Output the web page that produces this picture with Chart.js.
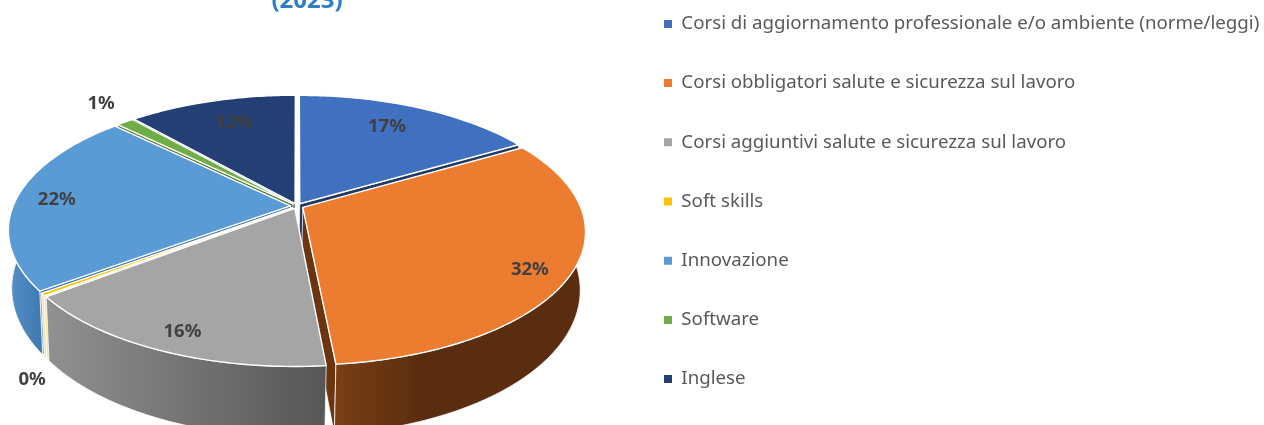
<!DOCTYPE html>
<html><head><meta charset="utf-8">
<style>html,body{margin:0;padding:0;background:#fff;overflow:hidden}#wrap{width:1264px;height:425px;position:relative}</style>
<script src="https://cdn.jsdelivr.net/npm/chart.js@4"></script>
</head><body><div id="wrap"><canvas id="c" width="1264" height="425"></canvas></div>
<script>
const categories = [
  "Corsi di aggiornamento professionale e/o ambiente (norme/leggi)",
  "Corsi obbligatori salute e sicurezza sul lavoro",
  "Corsi aggiuntivi salute e sicurezza sul lavoro",
  "Soft skills",
  "Innovazione",
  "Software",
  "Inglese"
];
const values = [16.6, 31.9, 16.1, 0.3, 22.4, 1.2, 11.5];
const titleText = "(2023)";
const topColors = ["#4270c0", "#ec7c30", "#a5a5a5", "#ffc000", "#5b9bd5", "#70ad47", "#243f75"];
const wallLeft = ["#2a4a85", "#7a3f14", "#919191", "#f6e6b0", "#5590c6", "#4d7a30", "#1b3057"];
const wallRight = ["#2a4a85", "#5a2d10", "#565656", "#f6e6b0", "#3f78ae", "#4d7a30", "#1b3057"];
const wallBend = [1, 0.35, 1, 1, 1, 1, 1];
const cutColors = ["#1f3864", "#6b3510", "#6a6a6a", "#f2e4ae", "#3f78ae", "#4d7a30", "#16284a"];
const explode = [6, 7, 6, 6, 7, 6, 6];
const labelRadial = [0.779, 0.895, 0.9, 1.33, 0.876, 1.24, 0.773];
const labelTurn = [-2, 3.4, -0.6, -17.8, -0.5, 1.9, 1.3];

const view = {x0: 297, y0: 206, a: 277.4, b: 128.7, k: 0.18, lowA: 0.985, lowX: -1, lowB: 140, lowD: 56};
function project(u, v, low) {
  const w = 1 - view.k * v;
  if (low) return [view.x0 + view.lowX + view.lowA * view.a * u / w, view.y0 + view.lowD + view.lowB * v / w];
  return [view.x0 + view.a * u / w, view.y0 + view.b * v / w];
}
function slicePoint(el, ang, r, low) {
  const mid = (el.startAngle + el.endAngle) / 2, d = (el.options.offset || 0) / 300;
  return project(Math.cos(ang) * r + Math.cos(mid) * d, Math.sin(ang) * r + Math.sin(mid) * d, low);
}
function rimPoints(el, low, frontOnly) {
  const pts = [], n = Math.max(2, Math.ceil((el.endAngle - el.startAngle) / 0.015));
  for (let i = 0; i <= n; i++) {
    const ang = el.startAngle + (el.endAngle - el.startAngle) * i / n;
    if (!frontOnly || Math.sin(ang) > -0.1) pts.push(slicePoint(el, ang, 1, low));
  }
  return pts;
}
function poly(ctx, pts) {
  ctx.beginPath();
  pts.forEach((p, i) => i ? ctx.lineTo(p[0], p[1]) : ctx.moveTo(p[0], p[1]));
  ctx.closePath();
}
const pie3d = {
  id: 'pie3d',
  afterLayout(chart) {
    chart.legend.right = chart.width;
    chart.legend.width = chart.width - chart.legend.left;
  },
  beforeDatasetsDraw(chart) {
    const ctx = chart.ctx, arcs = chart.getDatasetMeta(0).data;
    ctx.save();
    const order = arcs.map((el, i) => i).sort((a, b) =>
      Math.sin((arcs[a].startAngle + arcs[a].endAngle) / 2) - Math.sin((arcs[b].startAngle + arcs[b].endAngle) / 2));
    order.forEach(i => {
      const el = arcs[i], top = rimPoints(el, false), low = rimPoints(el, true);
      const a0 = slicePoint(el, 0, 0, false), a1 = slicePoint(el, 0, 0, true);
      ctx.lineWidth = 1; ctx.strokeStyle = 'rgba(255,255,255,0.75)'; ctx.lineJoin = 'round';
      const faces = [[top[0], low[0], el.startAngle - Math.PI / 2], [top[top.length - 1], low[low.length - 1], el.endAngle + Math.PI / 2]];
      faces.forEach(e => {
        if (Math.sin(e[2]) <= 0.01) return;
        poly(ctx, [a0, e[0], e[1], a1]);
        ctx.fillStyle = cutColors[i]; ctx.fill(); ctx.stroke();
      });
      const wallTop = rimPoints(el, false, true), wallLow = rimPoints(el, true, true);
      if (wallTop.length < 2) return;
      const xs = wallLow.concat(wallTop).map(p => p[0]);
      const g = ctx.createLinearGradient(Math.min(...xs), 0, Math.max(...xs), 0);
      g.addColorStop(0, wallLeft[i]); g.addColorStop(wallBend[i], wallRight[i]);
      poly(ctx, wallTop.concat(wallLow.slice().reverse()));
      ctx.fillStyle = g; ctx.fill(); ctx.stroke();
    });
    order.forEach(i => {
      const el = arcs[i];
      poly(ctx, [slicePoint(el, 0, 0, false)].concat(rimPoints(el, false)));
      ctx.fillStyle = el.options.backgroundColor; ctx.fill();
      ctx.lineWidth = 1.4; ctx.strokeStyle = '#ffffff'; ctx.stroke();
    });
    ctx.font = 'bold 18.5px "Noto Sans"'; ctx.fillStyle = '#404040';
    ctx.textAlign = 'center'; ctx.textBaseline = 'middle';
    arcs.forEach((el, i) => {
      const ang = (el.startAngle + el.endAngle) / 2 + labelTurn[i] * Math.PI / 180;
      const p = project(Math.cos(ang) * labelRadial[i], Math.sin(ang) * labelRadial[i], false);
      ctx.fillText(Math.round(values[i]) + '%', p[0], p[1]);
    });
    ctx.font = 'bold 24px "Open Sans"'; ctx.fillStyle = '#2f7fc8';
    ctx.fillText(titleText, 307, 1);
    ctx.restore();
    return false;
  }
};
new Chart(document.getElementById('c'), {
  type: 'pie',
  data: {labels: categories, datasets: [{data: values, backgroundColor: topColors, offset: explode, borderWidth: 0}]},
  options: {
    responsive: false, animation: false,
    layout: {padding: {top: -31, left: 0, right: 17, bottom: -9}},
    plugins: {
      tooltip: {enabled: false},
      legend: {
        position: 'right',
        labels: {boxWidth: 8, boxHeight: 8, padding: 40.5, color: '#595959', font: {family: '"Noto Sans"', size: 18.7}}
      }
    }
  },
  plugins: [pie3d]
});
</script></body></html>
